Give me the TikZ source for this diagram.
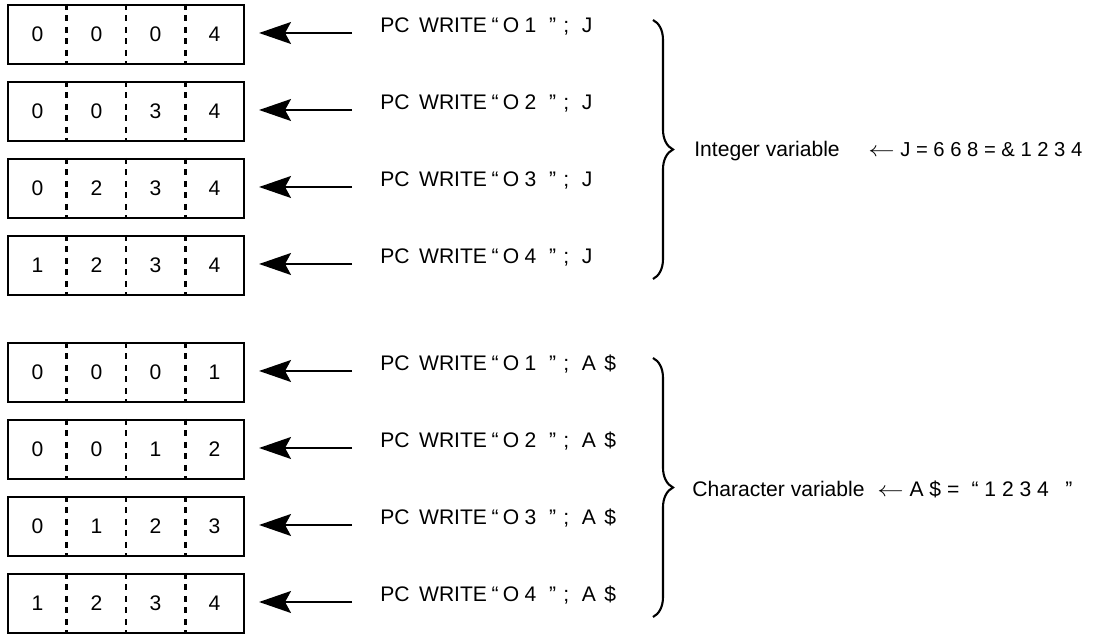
\documentclass[tikz,border=0pt]{standalone}
\usepackage{fontspec}
\setmainfont{Liberation Sans}
\usetikzlibrary{arrows.meta, calc, decorations.pathreplacing}

\newcommand{\avar}{A\hspace{0.4em}\$}
\newcommand{\pcwrite}[2]{PC\hspace{0.45em}WRITE\hspace{0.22em}“\hspace{0.2em}O\hspace{0.25em}#1\hspace{0.6em}”\hspace{0.35em};\hspace{0.6em}#2}
\newcommand{\larrow}{\scalebox{1.25}[1]{$\leftarrow$}}

\tikzset{
  font=\fontsize{12}{14}\selectfont,
  %
  reg/.style={draw, line width=1.2pt, minimum width=47.2mm,
              minimum height=11.8mm, inner sep=0pt},
  cell/.style={inner sep=0pt},
  divider/.style={line width=1.5pt, dash pattern=on 1.2mm off 1.1mm},
  %
  feed/.style={-{Stealth[length=6.4mm, width=4.4mm, inset=1.2mm]},
               line width=0.8pt, shorten >=2.8mm},
  cmd/.style={anchor=base west, inner sep=0pt},
  lbl/.style={anchor=base west, inner sep=0pt},
  curly/.style={decorate, decoration={brace, amplitude=4mm}, line width=1.2pt},
}

\begin{document}
\begin{tikzpicture}[x=0.2mm, y=-0.2mm]
\useasboundingbox (0,0) rectangle (1099,635);

% ------------------------------------------------------------ registers
\foreach \n/\yc/\da/\db/\dc/\dd/\ch/\var in {
  1/34.5/0/0/0/4/1/J, 2/111.5/0/0/3/4/2/J,
  3/188.5/0/2/3/4/3/J, 4/265.5/1/2/3/4/4/J,
  5/372.5/0/0/0/1/1/\avar, 6/449.5/0/0/1/2/2/\avar,
  7/526.5/0/1/2/3/3/\avar, 8/603.5/1/2/3/4/4/\avar}
{
  \node[reg] (reg\n) at (126,\yc) {};
  \foreach \k in {1,2,3}
    \draw[divider] ($(reg\n.north west)!\k/4!(reg\n.north east)$)
      -- ($(reg\n.south west)!\k/4!(reg\n.south east)$);
  \node[cell] (d\n a) at (37.5,\yc) {\da};
  \node[cell] (d\n b) at (96.5,\yc) {\db};
  \node[cell] (d\n c) at (155.5,\yc) {\dc};
  \node[cell] (d\n d) at (214.5,\yc) {\dd};
  % command and its arrow
  \node[cmd] (cmd\n) at (380,\yc-1.5) {\pcwrite{\ch}{\var}};
  \coordinate (tail\n) at (352,\yc-1.5);
  \draw[feed] (tail\n) -- (tail\n -| reg\n.east);
}

% --------------------------------------------------------------- braces
\draw[curly] (653,20) -- (653,279);
\draw[curly] (653,358) -- (653,617);

\node[lbl] (intlbl) at (694,157) {Integer variable};
\node[lbl, font=\fontsize{11.5}{14}\selectfont] (intval) at (868,157)
  {\larrow\ J = 6 6 8 = \& 1 2 3 4};
\node[lbl] (chrlbl) at (692,497) {Character variable};
\node[lbl] (chrval) at (877,497)
  {\larrow\ A \$ = \hspace{0.3em}“ 1 2 3 4 \hspace{0.5em}”};

\end{tikzpicture}
\end{document}
